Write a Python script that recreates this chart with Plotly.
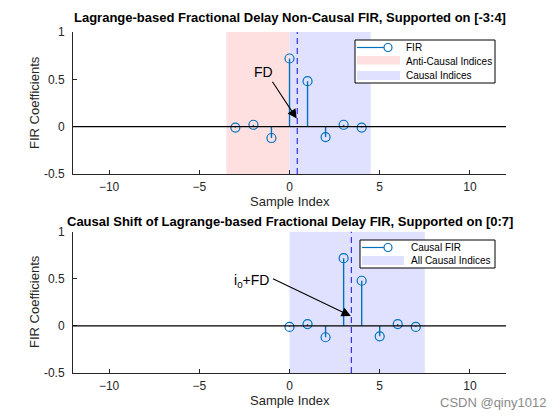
import plotly.graph_objects as go

# ---------------- data ----------------
nc_idx = [-3, -2, -1, 0, 1, 2, 3, 4]
fir_vals = [-0.01, 0.02, -0.12, 0.72, 0.48, -0.11, 0.02, -0.01]
causal_idx = [0, 1, 2, 3, 4, 5, 6, 7]
FD = 0.43
i0 = 3
anti_region = [-3.5, 0]
causal_region = [0, 4.5]
all_causal_region = [0, 7.5]
xticks = [-10, -5, 0, 5, 10]
yticks = [-0.5, 0, 0.5, 1]
ytick_text = ["-0.5", "0", "0.5", "1"]
XLIM = [-12, 12]
YLIM = [-0.5, 1]

STEM = "#0072BD"
PINK = "rgb(255,224,224)"
LBLUE = "rgb(224,224,255)"
DASHC = "rgb(50,50,230)"
AXC = "#262626"
FONT = "Liberation Sans, Arial, sans-serif"

W, H = 560, 420
ML, MR, MT, MB = 73, 54, 32, 47
PW, PH = W - ML - MR, H - MT - MB


def PX(x):
    return (x - ML) / PW


def PY(y):
    return (H - MB - y) / PH


fig = go.Figure()


def region_trace(r, color, xa, ya):
    return go.Scatter(x=[r[0], r[1], r[1], r[0], r[0]],
                      y=[YLIM[0], YLIM[0], YLIM[1], YLIM[1], YLIM[0]],
                      fill="toself", fillcolor=color, mode="none",
                      xaxis=xa, yaxis=ya, showlegend=False, hoverinfo="skip")


def stem_traces(xs, ys, xa, ya):
    lx, ly = [], []
    for a, b in zip(xs, ys):
        lx += [a, a, None]
        ly += [0, b, None]
    return [go.Scatter(x=lx, y=ly, mode="lines", line=dict(color=STEM, width=1.4),
                       xaxis=xa, yaxis=ya, showlegend=False, hoverinfo="skip"),
            go.Scatter(x=xs, y=ys, mode="markers",
                       marker=dict(symbol="circle-open", size=9, color=STEM,
                                   line=dict(width=1.2, color=STEM)),
                       xaxis=xa, yaxis=ya, showlegend=False)]


# top
fig.add_trace(region_trace(anti_region, PINK, "x", "y"))
fig.add_trace(region_trace(causal_region, LBLUE, "x", "y"))
for t in stem_traces(nc_idx, fir_vals, "x", "y"):
    fig.add_trace(t)
# bottom
fig.add_trace(region_trace(all_causal_region, LBLUE, "x2", "y2"))
for t in stem_traces(causal_idx, fir_vals, "x2", "y2"):
    fig.add_trace(t)

shapes = []
for xr, yr, xd in [("x", "y", FD), ("x2", "y2", i0 + FD)]:
    # baseline
    shapes.append(dict(type="line", xref=xr + " domain", yref=yr, x0=0, x1=1, y0=0, y1=0,
                       line=dict(color="black", width=1.2), layer="above"))
    # dashed fractional delay line
    shapes.append(dict(type="line", xref=xr, yref=yr + " domain", x0=xd, x1=xd, y0=0, y1=1,
                       line=dict(color=DASHC, width=1.2, dash="6px,4px"), layer="above"))

annotations = []


def txt(x, y, s, size=12, bold=False, xanchor="center", color=AXC, angle=0):
    annotations.append(dict(x=PX(x), y=PY(y), xref="paper", yref="paper", text=("<b>%s</b>" % s) if bold else s,
                            showarrow=False, xanchor=xanchor, yanchor="middle", textangle=angle,
                            font=dict(family=FONT, size=size, color=color)))


# titles & labels
axc = (ML + ML + PW) / 2
txt(axc, 17, "Lagrange-based Fractional Delay Non-Causal FIR, Supported on [-3:4]", 13, True, color="black")
txt(axc, 222, "Causal Shift of Lagrange-based Fractional Delay FIR, Supported on [0:7]", 13, True, color="black")
txt(axc, 201, "Sample Index", 13)
txt(axc, 400, "Sample Index", 13)
txt(34, 103, "FIR Coefficients", 13, angle=-90)
txt(34, 302, "FIR Coefficients", 13, angle=-90)

# arrows
annotations.append(dict(x=FD - 0.03, y=0.085, ax=-1.0, ay=0.49, xref="x", yref="y", axref="x", ayref="y",
                        text="", showarrow=True, arrowhead=2, arrowsize=1.7, arrowwidth=1.1,
                        arrowcolor="black"))
annotations.append(dict(x=-1.46, y=0.575, xref="x", yref="y", text="FD", showarrow=False,
                        font=dict(family=FONT, size=14, color="black")))
annotations.append(dict(x=i0 + FD - 0.03, y=0.105, ax=-1.0, ay=0.51, xref="x2", yref="y2", axref="x2", ayref="y2",
                        text="", showarrow=True, arrowhead=2, arrowsize=1.7, arrowwidth=1.1,
                        arrowcolor="black"))
annotations.append(dict(x=-1.0, y=0.51, xref="x2", yref="y2", text="i<sub>0</sub>+FD", showarrow=False,
                        xanchor="right", yanchor="middle", yshift=-3,
                        font=dict(family=FONT, size=14, color="black")))

# legends (custom)
def legend_box(x0, x1, y0, y1):
    shapes.append(dict(type="rect", xref="paper", yref="paper", x0=PX(x0), x1=PX(x1), y0=PY(y1), y1=PY(y0),
                       fillcolor="white", line=dict(color="black", width=1), layer="above"))


def legend_line(x0, x1, y):
    shapes.append(dict(type="line", xref="paper", yref="paper", x0=PX(x0), x1=PX(x1), y0=PY(y), y1=PY(y),
                       line=dict(color=STEM, width=1.2), layer="above"))
    shapes.append(dict(type="circle", xref="paper", yref="paper", x0=PX(x1 - 4), x1=PX(x1 + 4),
                       y0=PY(y + 4), y1=PY(y - 4), line=dict(color=STEM, width=1.2), fillcolor="white",
                       layer="above"))


def legend_patch(x0, x1, y0, y1, color):
    shapes.append(dict(type="rect", xref="paper", yref="paper", x0=PX(x0), x1=PX(x1), y0=PY(y1), y1=PY(y0),
                       fillcolor=color, line=dict(width=0), layer="above"))


legend_box(355, 495, 40, 83)
legend_line(357, 388, 47.5)
legend_patch(357, 400, 56, 64.5, PINK)
legend_patch(357, 400, 71, 80, LBLUE)
txt(404, 47.5, "FIR", 10, xanchor="left", color="black")
txt(404, 61, "Anti-Causal Indices", 10, xanchor="left", color="black")
txt(404, 75.5, "Causal Indices", 10, xanchor="left", color="black")

legend_box(360, 495, 240, 268)
legend_line(362, 388, 247.5)
legend_patch(362, 404, 256, 265, LBLUE)
txt(409, 247.5, "Causal FIR", 10, xanchor="left", color="black")
txt(409, 260.5, "All Causal Indices", 10, xanchor="left", color="black")

# watermark
txt(548, 402, "CSDN @qiny1012", 13, xanchor="right", color="#8a8a8a")

axis_common = dict(showgrid=False, zeroline=False, showline=True, linecolor=AXC, linewidth=1,
                   ticks="inside", ticklen=4, tickcolor=AXC, mirror=False,
                   tickfont=dict(family=FONT, size=12, color=AXC))

fig.update_layout(
    width=W, height=H, margin=dict(l=ML, r=MR, t=MT, b=MB),
    paper_bgcolor="white", plot_bgcolor="white", showlegend=False,
    xaxis=dict(domain=[0, 1], anchor="y", range=XLIM, tickvals=xticks, ticklabelstandoff=2, **axis_common),
    yaxis=dict(domain=[0.5836, 1], anchor="x", range=YLIM, tickvals=yticks, ticktext=ytick_text,
               ticklabelstandoff=5, **axis_common),
    xaxis2=dict(domain=[0, 1], anchor="y2", range=XLIM, tickvals=xticks, ticklabelstandoff=2, **axis_common),
    yaxis2=dict(domain=[0, 0.414], anchor="x2", range=YLIM, tickvals=yticks, ticktext=ytick_text,
                ticklabelstandoff=5, **axis_common),
    shapes=shapes, annotations=annotations,
)

fig.write_html("out.html", config={"displayModeBar": False},
               post_script="document.body.style.margin='0';document.body.style.padding='0';")
